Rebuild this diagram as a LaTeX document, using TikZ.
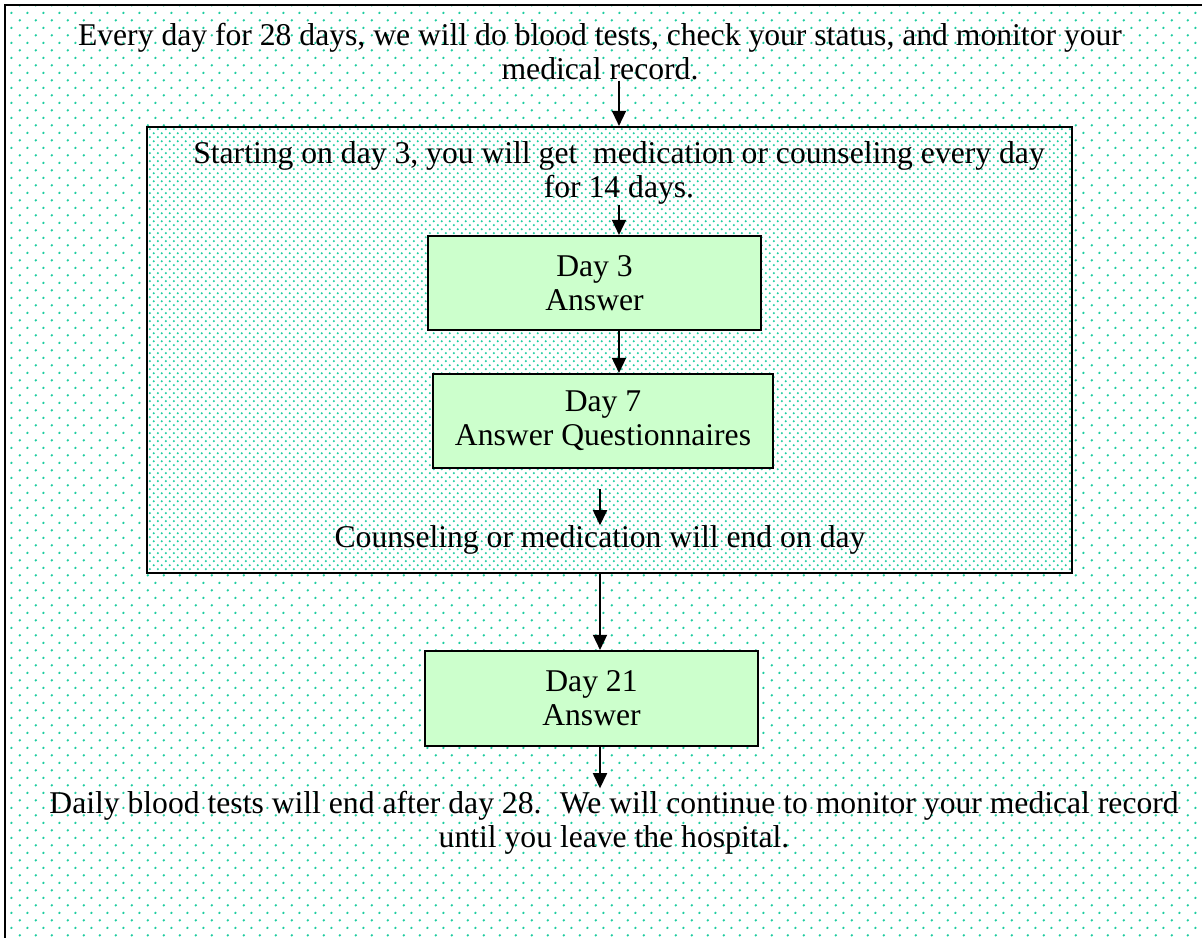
\documentclass[tikz,border=0pt]{standalone}
\usepackage{fontspec}
\setmainfont{Liberation Serif}
\usetikzlibrary{arrows.meta,patterns}
\definecolor{dotgreen}{RGB}{30,205,160}
\definecolor{boxgreen}{RGB}{204,255,204}
\pgfdeclarepatternformonly{sparsedots}{\pgfpointorigin}{\pgfqpoint{11.1pt}{10.95pt}}{\pgfqpoint{11.1pt}{10.95pt}}{%
    \pgfpathcircle{\pgfqpoint{2.775pt}{2.74pt}}{0.95pt}
    \pgfpathcircle{\pgfqpoint{8.325pt}{8.21pt}}{0.95pt}
    \pgfusepath{fill}}
\pgfdeclarepatternformonly{densedots}{\pgfpointorigin}{\pgfqpoint{5.55pt}{5.55pt}}{\pgfqpoint{5.55pt}{5.55pt}}{%
    \pgfpathcircle{\pgfqpoint{1.39pt}{1.39pt}}{0.85pt}
    \pgfpathcircle{\pgfqpoint{4.16pt}{4.16pt}}{0.85pt}
    \pgfusepath{fill}}
\tikzset{
    txt/.style={inner sep=0pt, align=center},
    daybox/.style={draw, line width=1.4pt, fill=boxgreen, align=center, minimum height=2.35cm},
    arr/.style={line width=1.4pt, -{Triangle[length=0.38cm,width=0.35cm]}},
}

\begin{document}
\begin{tikzpicture}[x=0.025cm, y=-0.025cm, font=\fontsize{22.5}{24.2}\selectfont]
    \useasboundingbox (0,0) rectangle (1202,938);
    \clip (0,0) rectangle (1202,938);
    % background frame and the treatment period
    \draw[line width=1.4pt, pattern=sparsedots, pattern color=dotgreen] (5,5) rectangle (1230,960);
    \node[draw, line width=1.4pt, preaction={fill=white}, pattern=densedots, pattern color=dotgreen,
          minimum width=23.125cm, minimum height=11.15cm] (innerbox) at (609.5,350) {};
    \node[txt] (toptext) at (600,52) {Every day for 28 days, we will do blood tests, check your status, and monitor your\\medical record.};
    \node[txt] (innertext) at (619,173) {Starting on day 3, you will get~ medication or counseling every day\\for 14 days.};
    \node[daybox, minimum width=8.325cm] (daythree) at (594.5,283) {Day 3\\Answer};
    \node[daybox, minimum width=8.5cm] (dayseven) at (603,421) {Day 7\\Answer Questionnaires};
    \node[txt] (endtext) at (600,540) {Counseling or medication will end on day};
    \node[daybox, minimum width=8.325cm, minimum height=2.375cm] (daytwentyone) at (591.5,698.5) {Day 21\\Answer};
    \node[txt] (bottomtext) at (614,823) {Daily blood tests will end after day 28.~ We will continue to monitor your medical record\\until you leave the hospital.};
    % arrows
    \draw[arr] (toptext.south -| innertext.center) -- (innerbox.north -| innertext.center);
    \draw[arr] (innertext.south) -- (daythree.north -| innertext.south);
    \draw[arr] (daythree.south -| innertext.south) -- (dayseven.north -| innertext.south);
    \draw[arr, shorten <=0.5cm] (dayseven.south -| endtext.north) -- (endtext.north);
    \draw[arr] (innerbox.south -| endtext.south) -- (daytwentyone.north -| endtext.south);
    \draw[arr, shorten >=2pt] (daytwentyone.south -| endtext.south) -- (bottomtext.north -| endtext.south);
\end{tikzpicture}
\end{document}
